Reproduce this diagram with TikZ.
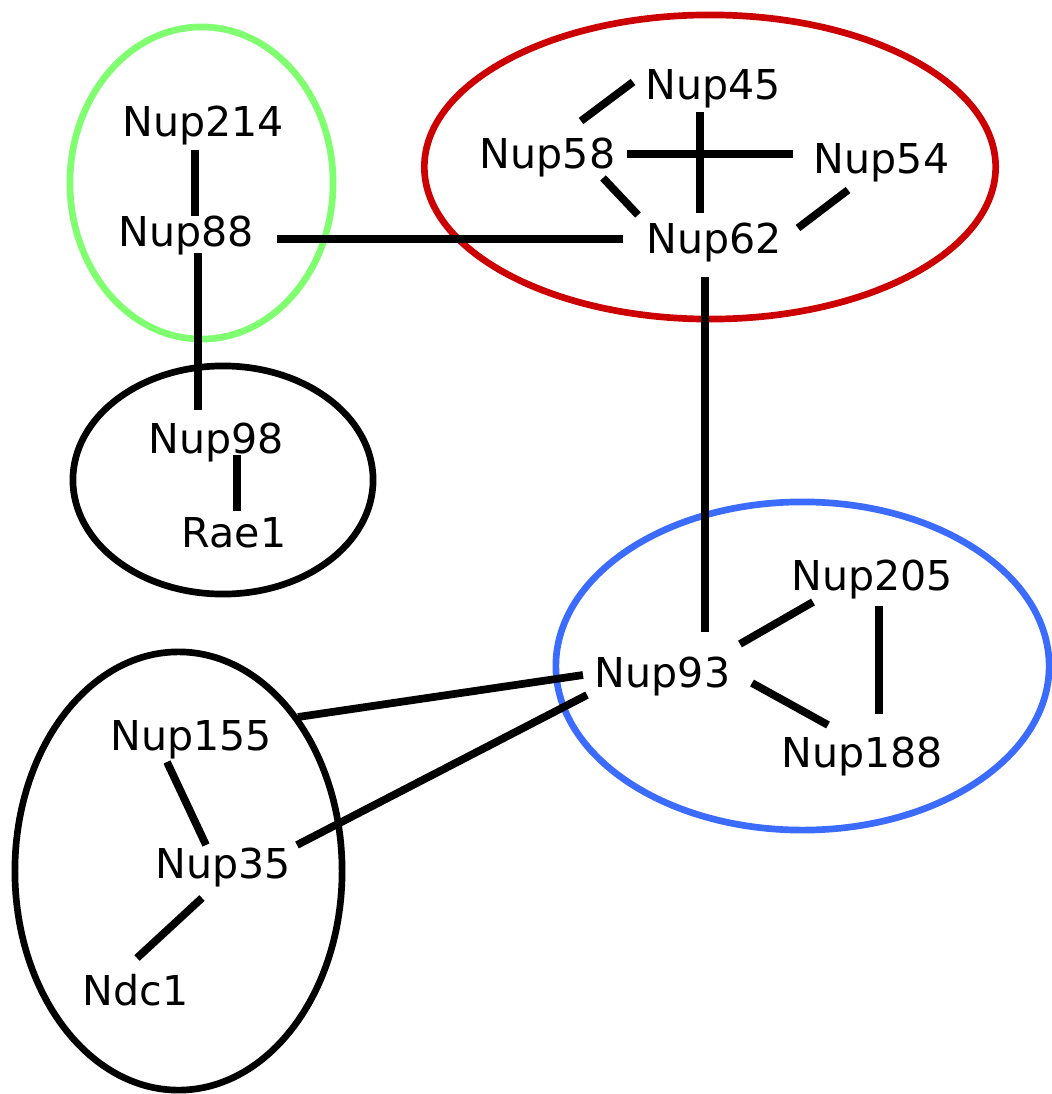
\documentclass[tikz,border=0pt]{standalone}
\usepackage{fontspec}
\setmainfont{DejaVu Sans}
\definecolor{grp green}{RGB}{128,255,112}
\definecolor{grp red}{RGB}{204,0,0}
\definecolor{grp blue}{RGB}{59,107,255}
\tikzset{
  lbl/.style={inner sep=0pt, anchor=base, font=\fontsize{11.7pt}{14pt}\selectfont},
  link/.style={line width=2.2pt, line cap=butt, black},
  grp/.style={line width=1.9pt}
}
\begin{document}
\begin{tikzpicture}[x=0.01cm, y=-0.01cm]
\useasboundingbox (0,0) rectangle (1052,1094);
% group ellipses
\draw[grp, grp green] (201.5,183) ellipse [x radius=1.315cm, y radius=1.56cm];
\draw[grp, grp red] (710,167) ellipse [x radius=2.855cm, y radius=1.52cm];
\draw[grp, black] (223,480) ellipse [x radius=1.50cm, y radius=1.14cm];
\draw[grp, grp blue] (802.5,666) ellipse [x radius=2.465cm, y radius=1.64cm];
\draw[grp, black] (178.5,871) ellipse [x radius=1.635cm, y radius=2.19cm];
% labels
\node[lbl] (n214) at (203,137) {Nup214};
\node[lbl] (n88) at (186.5,247) {Nup88};
\node[lbl] (n98) at (216.5,453) {Nup98};
\node[lbl] (rae1) at (234,547) {Rae1};
\node[lbl] (n45) at (713,100) {Nup45};
\node[lbl] (n58) at (547.5,169) {Nup58};
\node[lbl] (n54) at (881.5,173) {Nup54};
\node[lbl] (n62) at (714,254) {Nup62};
\node[lbl] (n205) at (872,590) {Nup205};
\node[lbl] (n93) at (662.5,687) {Nup93};
\node[lbl] (n188) at (862,767) {Nup188};
\node[lbl] (n155) at (191,750) {Nup155};
\node[lbl] (n35) at (223.5,878) {Nup35};
\node[lbl] (ndc1) at (135.5,1005) {Ndc1};
% connectors
\draw[link] ([shift={(-8,13)}]n214.base) -- ([shift={(8.5,-31)}]n88.base);
\draw[link] ([shift={(90.5,-8)}]n88.base) -- ([shift={(-91,-15)}]n62.base);
\draw[link] ([shift={(11.5,6)}]n88.base) -- ([shift={(-18.5,-43)}]n98.base);
\draw[link] ([shift={(20.5,2)}]n98.base) -- ([shift={(3,-36)}]rae1.base);
\draw[link] ([shift={(-80,-18)}]n45.base) -- ([shift={(33.5,-48)}]n58.base);
\draw[link] ([shift={(79.5,-15)}]n58.base) -- ([shift={(-88.5,-19)}]n54.base);
\draw[link] ([shift={(-13,12)}]n45.base) -- ([shift={(-14,-41)}]n62.base);
\draw[link] ([shift={(55.5,9)}]n58.base) -- ([shift={(-76,-39)}]n62.base);
\draw[link] ([shift={(-33.5,17)}]n54.base) -- ([shift={(84,-26)}]n62.base);
\draw[link] ([shift={(-9,23)}]n62.base) -- ([shift={(42.5,-55)}]n93.base);
\draw[link] ([shift={(77.5,-43)}]n93.base) -- ([shift={(-59,12)}]n205.base);
\draw[link] ([shift={(7,16)}]n205.base) -- ([shift={(17,-53)}]n188.base);
\draw[link] ([shift={(89.5,-4)}]n93.base) -- ([shift={(-34,-42)}]n188.base);
\draw[link] ([shift={(-79.5,-12)}]n93.base) -- ([shift={(107,-33)}]n155.base);
\draw[link] ([shift={(-75.5,8)}]n93.base) -- ([shift={(73.5,-33)}]n35.base);
\draw[link] ([shift={(-24,12)}]n155.base) -- ([shift={(-17.5,-33)}]n35.base);
\draw[link] ([shift={(-21.5,20)}]n35.base) -- ([shift={(1.5,-47)}]ndc1.base);
\end{tikzpicture}
\end{document}
